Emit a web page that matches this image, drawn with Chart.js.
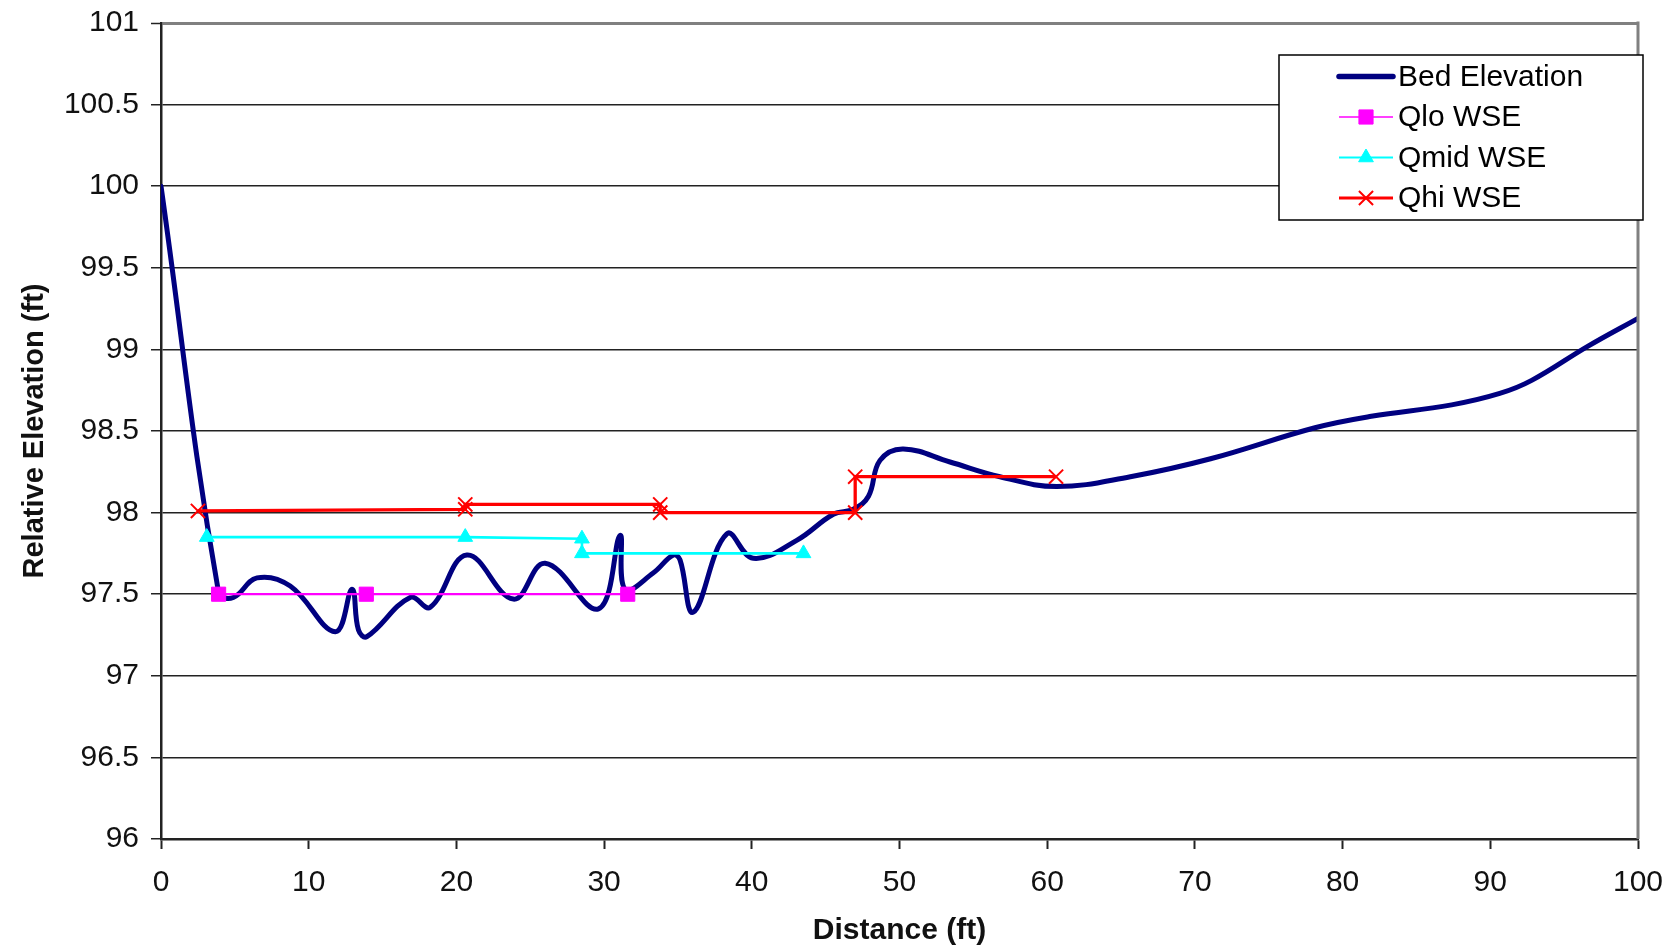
<!DOCTYPE html>
<html>
<head>
<meta charset="utf-8">
<script src="https://cdn.jsdelivr.net/npm/chart.js@4.4.0/dist/chart.umd.min.js"></script>
<style>
html,body{margin:0;padding:0;background:#fff;overflow:hidden;}
#wrap{width:1680px;height:949px;position:relative;}
</style>
</head>
<body>
<div id="wrap"><canvas id="c"></canvas></div>
<script>
// ---- data ----
const seriesNames = ['Bed Elevation', 'Qlo WSE', 'Qmid WSE', 'Qhi WSE'];

const bedX = [0, 3.9, 4.9, 6.5, 8.75, 11.8, 12.93, 13.37, 13.94, 16.87, 18.23, 20.71, 23.86, 26.01, 29.62, 31.08, 31.42, 33.32, 34.69, 35.14, 36.04, 38.31, 40.1, 43.04, 45.52, 46.87, 47.9, 48.68, 50.26, 53.42, 56.8, 60.64, 65.63, 71.06, 78.13, 81.94, 87.38, 90.64, 92.8, 96.62, 100];
const bedY = [100.0, 97.51, 97.48, 97.6, 97.55, 97.27, 97.53, 97.28, 97.24, 97.48, 97.42, 97.74, 97.47, 97.69, 97.41, 97.86, 97.53, 97.63, 97.74, 97.71, 97.39, 97.87, 97.72, 97.83, 97.99, 98.02, 98.1, 98.32, 98.39, 98.31, 98.22, 98.16, 98.22, 98.33, 98.52, 98.59, 98.66, 98.73, 98.81, 99.02, 99.19];

const qloX = [3.9, 13.9, 31.6];
const qloY = [97.5, 97.5, 97.5];

const qmidX = [3.1, 20.6, 28.5, 28.5, 43.5];
const qmidY = [97.85, 97.85, 97.84, 97.75, 97.75];

const qhiX = [2.5, 20.6, 20.6, 33.8, 33.8, 47.0, 47.0, 60.6];
const qhiY = [98.01, 98.02, 98.05, 98.05, 98.0, 98.0, 98.22, 98.22];

const xTicks = [0, 10, 20, 30, 40, 50, 60, 70, 80, 90, 100];
const yTicks = [96, 96.5, 97, 97.5, 98, 98.5, 99, 99.5, 100, 100.5, 101];

const xTitle = 'Distance (ft)';
const yTitle = 'Relative Elevation (ft)';

// ---- helpers ----
const pts = (xs, ys) => xs.map((x, i) => ({ x: x, y: ys[i] }));
const FONT = '"Liberation Sans", Arial, sans-serif';

function drawMarker(ctx, style, r, x, y, color, bw) {
  ctx.save();
  ctx.fillStyle = color; ctx.strokeStyle = color; ctx.lineWidth = bw;
  ctx.beginPath();
  if (style === 'rect') {
    const s = Math.SQRT1_2 * r;
    ctx.rect(x - s, y - s, 2 * s, 2 * s);
    ctx.fill(); ctx.stroke();
  } else if (style === 'triangle') {
    const h = r;
    ctx.moveTo(x, y - h);
    ctx.lineTo(x + Math.cos(Math.PI / 6) * h, y + h / 2);
    ctx.lineTo(x - Math.cos(Math.PI / 6) * h, y + h / 2);
    ctx.closePath(); ctx.fill(); ctx.stroke();
  } else if (style === 'crossRot') {
    const d = Math.SQRT1_2 * r;
    ctx.moveTo(x - d, y - d); ctx.lineTo(x + d, y + d);
    ctx.moveTo(x - d, y + d); ctx.lineTo(x + d, y - d);
    ctx.stroke();
  }
  ctx.restore();
}

const framePlugin = {
  id: 'frame',
  afterDatasetsDraw(chart) {
    const { ctx, chartArea } = chart;
    ctx.save();
    ctx.strokeStyle = '#808080';
    ctx.lineWidth = 3;
    ctx.beginPath();
    ctx.moveTo(chartArea.right, chartArea.top - 1.5);
    ctx.lineTo(chartArea.right, chartArea.bottom);
    ctx.stroke();
    ctx.restore();
  }
};

const legendPlugin = {
  id: 'boxLegend',
  afterDraw(chart) {
    const ctx = chart.ctx;
    const bx = 1279, by = 55, bw = 364, bh = 165;
    ctx.save();
    ctx.fillStyle = '#fff';
    ctx.fillRect(bx, by, bw, bh);
    ctx.strokeStyle = '#000';
    ctx.lineWidth = 1.5;
    ctx.strokeRect(bx, by, bw, bh);
    chart.data.datasets.forEach((ds, i) => {
      const y = by + 21.5 + i * 40.5;
      ctx.strokeStyle = ds.borderColor;
      ctx.lineWidth = i === 0 ? 5.5 : ds.borderWidth - 0.5;
      ctx.lineCap = i === 0 ? 'round' : 'butt';
      ctx.beginPath();
      ctx.moveTo(1339, y);
      ctx.lineTo(1393, y);
      ctx.stroke();
      if (ds.pointRadius > 0) {
        drawMarker(ctx, ds.pointStyle, ds.pointRadius, 1366, y, ds.pointBackgroundColor, ds.pointBorderWidth);
      }
      ctx.fillStyle = '#000';
      ctx.font = '30px ' + FONT;
      ctx.textBaseline = 'middle';
      ctx.textAlign = 'left';
      ctx.fillText(ds.label, 1398, y + 1);
    });
    ctx.restore();
  }
};

new Chart(document.getElementById('c'), {
  type: 'line',
  data: {
    datasets: [
      {
        label: seriesNames[0], data: pts(bedX, bedY),
        borderColor: '#000080', backgroundColor: '#000080', borderWidth: 5,
        pointRadius: 0, tension: 0.4, order: 4, borderCapStyle: 'round'
      },
      {
        label: seriesNames[1], data: pts(qloX, qloY),
        borderColor: '#FF00FF', backgroundColor: '#FF00FF', borderWidth: 2.2,
        pointStyle: 'rect', pointRadius: 10, pointBorderWidth: 1,
        pointBackgroundColor: '#FF00FF', pointBorderColor: '#FF00FF',
        tension: 0, order: 3
      },
      {
        label: seriesNames[2], data: pts(qmidX, qmidY),
        borderColor: '#00FFFF', backgroundColor: '#00FFFF', borderWidth: 2.6,
        pointStyle: 'triangle', pointRadius: 8.5, pointBorderWidth: 1,
        pointBackgroundColor: '#00FFFF', pointBorderColor: '#00FFFF',
        tension: 0, order: 2
      },
      {
        label: seriesNames[3], data: pts(qhiX, qhiY),
        borderColor: '#FF0000', backgroundColor: '#FF0000', borderWidth: 3.3,
        pointStyle: 'crossRot', pointRadius: 10, pointBorderWidth: 2,
        pointBackgroundColor: '#FF0000', pointBorderColor: '#FF0000',
        tension: 0, order: 1
      }
    ]
  },
  options: {
    responsive: true,
    maintainAspectRatio: false,
    animation: false,
    events: [],
    layout: { padding: { left: 0, right: 42, top: 23, bottom: 0 } },
    plugins: { legend: { display: false }, tooltip: { enabled: false }, title: { display: false } },
    scales: {
      x: {
        type: 'linear', min: 0, max: 100,
        afterBuildTicks: s => { s.ticks = xTicks.map(v => ({ value: v })); },
        afterFit: s => { s.height = 110; s.paddingLeft = 0; s.paddingRight = 0; s.paddingTop = 0; s.paddingBottom = 0; },
        grid: { drawOnChartArea: false, drawTicks: true, tickLength: 10, tickColor: '#222', tickWidth: 2 },
        border: { display: true, color: '#222', width: 2.5 },
        ticks: { color: '#111', font: { family: FONT, size: 30 }, padding: 16, maxRotation: 0, callback: v => String(v) },
        title: { display: true, text: xTitle, color: '#111', font: { family: FONT, size: 30, weight: 'bold' }, padding: { top: 0, bottom: 0 } }
      },
      y: {
        type: 'linear', min: 96, max: 101,
        afterBuildTicks: s => { s.ticks = yTicks.map(v => ({ value: v })); },
        afterFit: s => { s.width = 161; s.paddingTop = 0; s.paddingBottom = 0; s.paddingLeft = 0; s.paddingRight = 0; },
        grid: {
          color: c => (c.tick && c.tick.value === 101) ? '#808080' : '#222',
          lineWidth: c => (c.tick && c.tick.value === 101) ? 3 : 1.5,
          tickColor: '#222', tickWidth: 1.5, tickLength: 10, drawTicks: true
        },
        border: { display: true, color: '#222', width: 2.5 },
        ticks: { color: '#111', font: { family: FONT, size: 30 }, padding: 12, callback: v => String(v) },
        title: { display: true, text: yTitle, color: '#111', font: { family: FONT, size: 29, weight: 'bold' }, padding: { top: 18, bottom: 0 } }
      }
    }
  },
  plugins: [framePlugin, legendPlugin]
});
</script>
</body>
</html>
